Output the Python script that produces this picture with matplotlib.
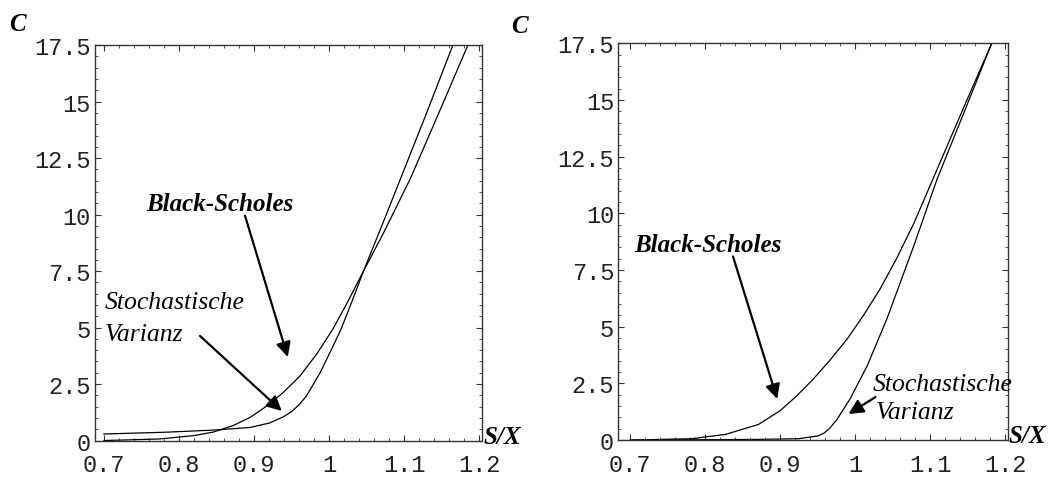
import matplotlib.pyplot as plt
import numpy as np
from matplotlib.ticker import MultipleLocator, FuncFormatter

# ---- values (S/X, C)
# left panel
bs_l_x = [0.700, 0.774, 0.820, 0.845, 0.872, 0.895, 0.917, 0.939, 0.961, 0.984, 1.005, 1.025, 1.046, 1.072, 1.108, 1.145, 1.185]
bs_l_y = [0.00, 0.07, 0.22, 0.37, 0.66, 1.03, 1.53, 2.13, 2.85, 3.85, 4.93, 6.15, 7.51, 9.15, 11.57, 14.4, 17.5]
sv_l_x = [0.700, 0.783, 0.850, 0.895, 0.921, 0.939, 0.950, 0.960, 0.970, 0.988, 1.002, 1.016, 1.031, 1.046, 1.072, 1.095, 1.130, 1.165]
sv_l_y = [0.29, 0.37, 0.47, 0.58, 0.78, 1.05, 1.28, 1.58, 1.98, 3.00, 3.95, 4.93, 6.20, 7.51, 9.65, 11.57, 14.5, 17.5]

# right panel
bs_r_x = [0.700, 0.782, 0.827, 0.871, 0.900, 0.922, 0.944, 0.967, 0.989, 1.011, 1.033, 1.055, 1.078, 1.106, 1.145, 1.182]
bs_r_y = [0.00, 0.06, 0.25, 0.69, 1.30, 1.95, 2.69, 3.55, 4.45, 5.50, 6.66, 8.00, 9.55, 11.7, 14.7, 17.5]
sv_r_x = [0.700, 0.871, 0.924, 0.950, 0.958, 0.966, 0.976, 0.993, 1.016, 1.042, 1.078, 1.109, 1.145, 1.182]
sv_r_y = [0.00, 0.03, 0.06, 0.18, 0.30, 0.52, 0.93, 1.81, 3.28, 5.33, 8.56, 11.5, 14.45, 17.5]

xticks = [0.7, 0.8, 0.9, 1.0, 1.1, 1.2]
yticks = [0, 2.5, 5, 7.5, 10, 12.5, 15, 17.5]

mono = 'Liberation Mono'
serif = 'Liberation Serif'


def fmt(v, pos):
    return '%g' % v


def setup(ax, xlim):
    ax.set_xlim(*xlim)
    ax.set_ylim(0, 17.5)
    ax.xaxis.set_minor_locator(MultipleLocator(0.02))
    ax.yaxis.set_minor_locator(MultipleLocator(0.5))
    ax.set_xticks(xticks)
    ax.set_yticks(yticks)
    ax.xaxis.set_major_formatter(FuncFormatter(fmt))
    ax.yaxis.set_major_formatter(FuncFormatter(fmt))
    ax.tick_params(which='both', direction='in', top=True, right=True, color='#333333')
    ax.tick_params(which='major', length=4, width=0.8)
    ax.tick_params(which='minor', length=2, width=0.6)
    ax.tick_params(axis='x', pad=9)
    ax.tick_params(axis='y', pad=3)
    for lab in ax.get_xticklabels() + ax.get_yticklabels():
        lab.set_fontfamily(mono)
        lab.set_fontsize(17)
        lab.set_color('#222222')
    for sp in ax.spines.values():
        sp.set_linewidth(1.0)
        sp.set_color('#333333')


fig = plt.figure(figsize=(10.55, 4.81), dpi=100)
ax1 = fig.add_axes([0.090, 0.082, 0.367, 0.822])
ax2 = fig.add_axes([0.586, 0.083, 0.369, 0.825])

ax1.plot(bs_l_x, bs_l_y, color='black', lw=0.9)
ax1.plot(sv_l_x, sv_l_y, color='black', lw=0.9)
ax2.plot(bs_r_x, bs_r_y, color='black', lw=0.9)
ax2.plot(sv_r_x, sv_r_y, color='black', lw=0.9)

setup(ax1, (0.688, 1.204))
setup(ax2, (0.684, 1.203))

arrow = dict(arrowstyle='-|>', lw=1.6, color='black', mutation_scale=22, shrinkA=0, shrinkB=0)
fs = 18.5

# left annotations
ax1.text(0.855, 10.48, 'Black-Scholes', family=serif, style='italic', weight='bold',
         fontsize=18, ha='center', va='center')
ax1.annotate('', xy=(0.945, 3.70), xytext=(0.888, 9.95), arrowprops=arrow)
ax1.text(0.701, 6.14, 'Stochastische', family=serif, style='italic', fontsize=fs,
         ha='left', va='center')
ax1.text(0.701, 4.72, 'Varianz', family=serif, style='italic', fontsize=fs,
         ha='left', va='center')
ax1.annotate('', xy=(0.937, 1.31), xytext=(0.828, 4.63), arrowprops=arrow)

# right annotations
ax2.text(0.804, 8.64, 'Black-Scholes', family=serif, style='italic', weight='bold',
         fontsize=18, ha='center', va='center')
ax2.annotate('', xy=(0.896, 1.81), xytext=(0.837, 8.10), arrowprops=arrow)
ax2.text(1.023, 2.47, 'Stochastische', family=serif, style='italic', fontsize=fs,
         ha='left', va='center', clip_on=False)
ax2.text(1.027, 1.23, 'Varianz', family=serif, style='italic', fontsize=fs,
         ha='left', va='center', clip_on=False)
ax2.annotate('', xy=(0.991, 1.15), xytext=(1.027, 1.90), arrowprops=arrow)

# axis letters
ax1.text(-0.20, 1.056, 'C', transform=ax1.transAxes, family=serif, style='italic',
         weight='bold', fontsize=18, ha='center', va='center')
ax2.text(-0.254, 1.045, 'C', transform=ax2.transAxes, family=serif, style='italic',
         weight='bold', fontsize=18, ha='center', va='center')
ax1.text(1.003, 0.011, 'S/X', transform=ax1.transAxes, family=serif, style='italic',
         weight='bold', fontsize=18, ha='left', va='center')
ax2.text(1.003, 0.011, 'S/X', transform=ax2.transAxes, family=serif, style='italic',
         weight='bold', fontsize=18, ha='left', va='center')

fig.savefig('out.png', dpi=100)
